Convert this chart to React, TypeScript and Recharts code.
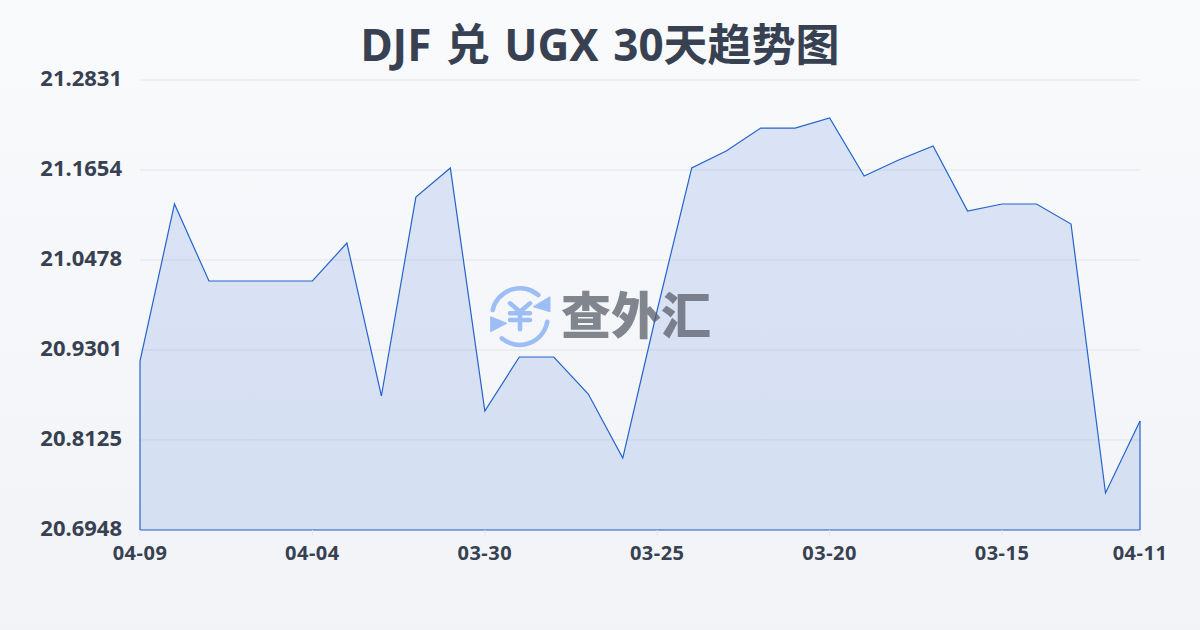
import React from "react";
import { AreaChart, Area, XAxis, YAxis, CartesianGrid, ReferenceLine } from "recharts";

const dates = ["04-09","04-08","04-07","04-06","04-05","04-04","04-03","04-02","04-01","03-31","03-30","03-29","03-28","03-27","03-26","03-25","03-24","03-23","03-22","03-21","03-20","03-19","03-18","03-17","03-16","03-15","03-14","03-13","03-12","04-11"];
const rates = [20.9157,21.1210,21.0203,21.0203,21.0203,21.0203,21.0700,20.8700,21.1301,21.1681,20.8504,20.9210,20.9210,20.8726,20.7889,20.9824,21.1681,21.1903,21.2203,21.2203,21.2334,21.1576,21.1785,21.1968,21.1118,21.1210,21.1210,21.0948,20.7432,20.8373];
const yTicks = [20.6948,20.8125,20.9301,21.0478,21.1654,21.2831];
const xTicks = ["04-09","04-04","03-30","03-25","03-20","03-15","04-11"];
const titleText = "DJF 兑 UGX 30天趋势图";
const watermarkText = "查外汇";

const rows = dates.map((date, i) => ({ date, rate: rates[i] }));
const yMin = yTicks[0];
const yMax = yTicks[yTicks.length - 1];
const font = "'Noto Sans', 'Noto Sans CJK SC', sans-serif";
const line = "#2563cc";

export default function App() {
  return (
    <div style={{ position: "fixed", left: 0, top: 0, width: 1200, height: 630, overflow: "hidden", background: "linear-gradient(180deg,#f8fafc 0%,#f1f3f6 100%)" }}>
      <div style={{ position: "absolute", left: 0, top: 13, width: 1200, textAlign: "center", fontFamily: "'Noto Sans', 'Noto Sans CJK SC', sans-serif", fontWeight: 700, fontSize: 44, wordSpacing: 3, lineHeight: "62px", color: "#374151" }}>{titleText}</div>
      <div style={{ position: "absolute", left: 0, top: 0 }}>
        <AreaChart width={1200} height={630} data={rows} margin={{ top: 80, right: 60, bottom: 70, left: 0 }}>
          <CartesianGrid horizontal vertical={false} stroke="#e3e6eb" strokeWidth={1} />
          <XAxis dataKey="date" ticks={xTicks} interval={0} height={30} axisLine={false} tickLine={{ stroke: "#e3e6eb" }} tickSize={6} tickMargin={10}
            tick={{ fill: "#374151", fontSize: 20, fontWeight: 700, letterSpacing: 0.5, fontFamily: font }} />
          <YAxis type="number" domain={[yMin, yMax]} ticks={yTicks} width={140} axisLine={false} tickLine={false} tickMargin={12}
            tickFormatter={(v: number) => v.toFixed(4)}
            tick={{ fill: "#374151", fontSize: 22, fontWeight: 700, fontFamily: font, dy: -2 }} />
          <Area type="linear" dataKey="rate" baseValue={yMin} stroke={line} strokeWidth={1.2} fill="#2a63d8" fillOpacity={0.14} isAnimationActive={false} dot={false} activeDot={false} />
          <ReferenceLine ifOverflow="visible" segment={[{ x: dates[0], y: yMin }, { x: dates[dates.length - 1], y: yMin }]} stroke={line} strokeWidth={1.2} />
          <ReferenceLine ifOverflow="visible" segment={[{ x: dates[0], y: yMin }, { x: dates[0], y: rates[0] }]} stroke={line} strokeWidth={1.2} />
          <ReferenceLine ifOverflow="visible" segment={[{ x: dates[dates.length - 1], y: yMin }, { x: dates[dates.length - 1], y: rates[rates.length - 1] }]} stroke={line} strokeWidth={1.2} />
        </AreaChart>
      </div>
      <svg width={70} height={70} viewBox="0 0 70 70" style={{ position: "absolute", left: 484, top: 280 }}>
        <g fill="none" stroke="#9dbdf5" strokeWidth={4.5} strokeLinecap="round">
          <path d="M8.7 30 A 28 28 0 0 1 54.3 15" />
          <path d="M63.3 41.7 A 28 28 0 0 1 17.7 58.3" />
          <path d="M26 23.3 L36 31.7 L46 23.3 M26 33.3 H46 M26 40 H46 M36 31.7 V49.3" />
        </g>
        <path d="M66 16.7 L66 31.7 L49.3 26.7 Z" fill="#9dbdf5" stroke="#9dbdf5" strokeWidth={1} />
        <path d="M6.7 36.7 L6.7 51.7 L22.7 43.3 Z" fill="#9dbdf5" stroke="#9dbdf5" strokeWidth={1} />
      </svg>
      <div style={{ position: "absolute", left: 561, top: 277, fontFamily: "'Noto Sans CJK SC', sans-serif", fontWeight: 900, fontSize: 50, lineHeight: "70px", color: "#555a66", opacity: 0.72, whiteSpace: "nowrap" }}>{watermarkText}</div>
    </div>
  );
}
